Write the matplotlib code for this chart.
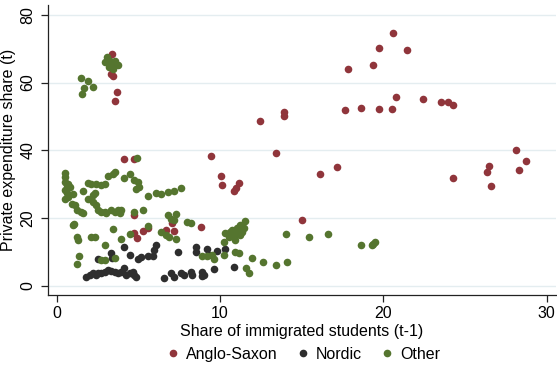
import matplotlib.pyplot as plt
from matplotlib.lines import Line2D

plt.rcParams["font.family"] = ["Liberation Sans", "DejaVu Sans"]

# Anglo-Saxon countries
anglo_x = [3.40, 3.55, 3.34, 3.47, 3.71, 3.55, 4.15, 4.76, 4.76, 5.27, 4.92, 4.72,
           5.57, 6.69, 7.09, 7.17, 8.81, 9.46, 10.05, 10.13, 11.14, 11.0, 10.88,
           12.46, 13.43, 13.9, 13.9, 15.03, 16.15, 17.18, 17.83, 17.67, 18.62,
           19.39, 19.76, 20.57, 21.44, 19.76, 20.53, 20.77, 22.41, 23.51, 23.97,
           24.24, 24.26, 26.46, 26.36, 26.61, 28.13, 28.73, 28.29]
anglo_y = [68.4, 65.5, 62.6, 61.8, 57.1, 54.7, 37.4, 37.4, 20.9, 16.3, 14.3, 15.5,
           17.0, 16.5, 18.6, 16.2, 17.4, 38.4, 32.4, 29.7, 30.5, 28.9, 27.9,
           48.8, 39.1, 51.2, 50.0, 19.4, 33.0, 35.1, 64.0, 51.9, 52.6,
           65.3, 70.2, 74.6, 69.7, 52.1, 52.3, 55.6, 55.1, 54.4, 54.3,
           53.4, 32.0, 35.4, 33.6, 29.5, 40.2, 36.9, 34.2]

# Nordic countries
nordic_x = [1.82, 2.02, 2.23, 2.43, 2.53, 2.74, 2.94, 3.14, 3.34, 3.55, 3.75, 3.95,
            4.15, 4.26, 4.46, 4.66, 4.76, 4.86, 2.53, 3.3, 3.4, 4.11, 4.46, 4.96,
            5.57, 5.17, 6.08, 5.98, 5.88, 7.4, 8.51, 8.51, 9.22, 9.32, 9.83, 10.33,
            6.58, 6.99, 7.19, 7.6, 7.8, 8.2, 8.31, 8.92, 8.92, 9.0, 9.62, 10.88]
nordic_y = [2.7, 3.2, 3.7, 3.2, 3.9, 3.7, 4.2, 4.7, 4.5, 4.2, 3.7, 4.2,
            5.2, 3.2, 3.7, 4.2, 3.2, 2.7, 8.1, 9.6, 8.4, 11.4, 9.1, 7.9,
            8.8, 8.5, 12.1, 10.6, 8.8, 10.1, 11.6, 10.1, 10.9, 9.1, 10.4, 10.8,
            2.3, 3.7, 2.7, 3.7, 3.2, 4.2, 3.2, 4.2, 2.9, 3.3, 4.9, 5.5]

# Other countries
other_x = [1.52, 1.93, 2.23, 1.68, 1.56, 3.06, 3.24, 2.98, 3.3, 3.55, 3.75, 3.18, 3.45,
           4.92, 0.51, 0.51, 0.51, 0.61, 0.71, 0.81, 0.51, 0.61, 0.51, 0.71, 1.01,
           0.91, 1.11, 1.22, 1.52, 1.62, 1.62, 1.93, 2.13, 2.43, 2.74, 2.94, 3.14,
           3.45, 3.55, 1.93, 2.23, 2.33, 2.23, 2.43, 2.53, 2.74, 2.94, 3.04, 3.34,
           3.55, 3.75, 3.85, 3.95, 4.15, 4.46, 4.76, 4.96, 5.07, 4.86, 5.57, 4.76,
           5.27, 1.07, 1.01, 1.22, 1.28, 2.13, 2.33, 3.45, 3.91, 4.46, 2.94, 5.57,
           1.36, 1.22, 2.74, 2.94, 3.55,
           6.08, 6.38, 6.79, 7.19, 7.6, 6.79, 7.29, 7.19, 6.99, 8.0, 8.21,
           6.38, 6.69, 7.29, 6.89,
           11.55, 11.25, 11.04, 10.64, 10.33, 10.54, 10.84, 11.25, 10.94, 11.35,
           10.23, 10.74, 11.45, 11.0, 9.22, 9.62, 10.23, 10.94, 11.14, 8.9, 9.52,
           11.96, 12.66, 13.43, 11.61, 11.75, 14.04, 15.46, 16.62, 18.66, 19.29,
           19.51, 19.39, 14.08]
other_y = [61.4, 60.4, 58.6, 58.4, 56.7, 67.4, 66.5, 66.0, 65.0, 66.3, 65.3, 64.5, 64.0,
           37.9, 33.4, 32.2, 30.7, 29.7, 30.2, 29.2, 28.2, 27.3, 25.8, 26.3, 27.0,
           24.3, 23.8, 22.4, 21.9, 21.4, 27.9, 30.4, 30.2, 30.2, 29.7, 30.2, 32.4,
           33.1, 33.5, 25.8, 26.8, 27.3, 24.8, 23.8, 22.4, 21.9, 21.9, 21.4, 22.4,
           21.9, 22.4, 21.4, 22.4, 31.9, 33.1, 31.2, 30.7, 29.2, 28.7, 26.5, 21.9,
           22.5, 18.4, 17.9, 14.5, 13.5, 14.5, 14.5, 16.7, 13.9, 15.2, 12.1, 17.6,
           8.8, 6.5, 7.6, 7.6, 8.4,
           27.4, 27.1, 27.7, 28.0, 29.0, 20.9, 21.2, 19.4, 19.9, 18.9, 18.6,
           16.0, 15.0, 14.0, 14.5,
           19.2, 17.9, 17.0, 16.0, 15.5, 14.5, 14.5, 15.0, 13.5, 16.0,
           13.0, 16.5, 17.2, 15.8, 8.8, 8.1, 9.1, 10.1, 9.6, 8.8, 9.1,
           8.4, 7.1, 6.2, 5.4, 3.7, 15.3, 14.4, 15.2, 12.2, 12.0,
           13.0, 12.5, 7.0]

groups = ["Anglo-Saxon", "Nordic", "Other"]
colors = ["#90353b", "#2e2e2e", "#55752f"]

fig = plt.figure(figsize=(5.57, 3.70), dpi=100)
ax = fig.add_axes([0.0856, 0.2027, 0.912, 0.784])

ms = 30
ax.scatter(anglo_x, anglo_y, s=ms, color=colors[0], linewidths=0, zorder=3)
ax.scatter(nordic_x, nordic_y, s=ms, color=colors[1], linewidths=0, zorder=3)
ax.scatter(other_x, other_y, s=ms, color=colors[2], linewidths=0, zorder=3)

ax.set_xlim(-0.55, 30.55)
ax.set_ylim(-2.65, 82.9)
ax.set_xticks([0, 10, 20, 30])
ax.set_yticks([0, 20, 40, 60, 80])
ax.grid(axis="y", color="#e4edf0", linewidth=1)
ax.set_axisbelow(True)

for side in ["top", "right"]:
    ax.spines[side].set_visible(False)
for side in ["left", "bottom"]:
    ax.spines[side].set_color("#222222")
    ax.spines[side].set_linewidth(0.9)

ax.tick_params(direction="out", length=5, width=0.9, color="#222222",
               labelsize=11.5, pad=3)
ax.tick_params(axis="y", pad=4)
plt.setp(ax.get_yticklabels(), rotation=90, va="center")

ax.set_xlabel("Share of immigrated students (t-1)", fontsize=11.5, labelpad=2)
ax.set_ylabel("Private expenditure share (t)", fontsize=11.5, labelpad=3)

handles = [Line2D([], [], marker="o", linestyle="", markersize=5.5,
                  markerfacecolor=c, markeredgewidth=0) for c in colors]
fig.legend(handles, groups, loc="center", bbox_to_anchor=(0.543, 0.042),
           ncol=3, frameon=False, fontsize=11.5, handletextpad=0.3,
           columnspacing=1.1, handlelength=1.0)

fig.savefig("out.png", dpi=100)
